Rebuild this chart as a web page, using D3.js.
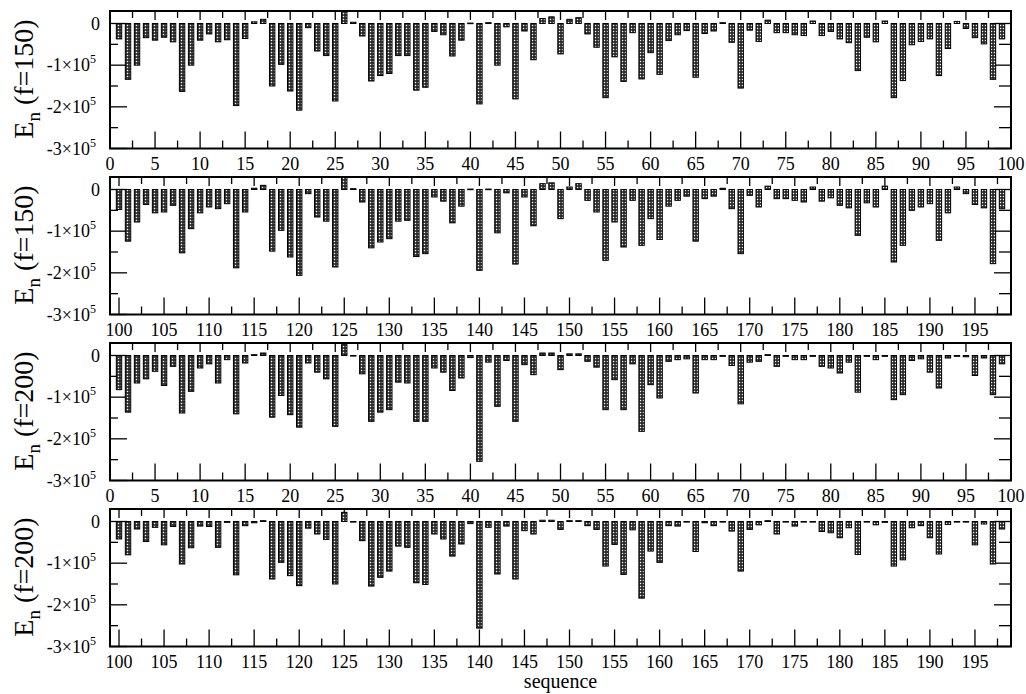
<!DOCTYPE html>
<html>
<head>
<meta charset="utf-8">
<script src="https://cdn.jsdelivr.net/npm/d3@7"></script>
<style>
body { margin: 0; background: #fff; }
svg text { font-family: "Liberation Serif", "Times New Roman", serif; fill: #000; }
</style>
</head>
<body>
<svg id="chart" width="1026" height="694"></svg>
<script>
// E_n in units of 1e5
// f=150, sequences 1..99
const en150a = [-0.37,-1.34,-1.0,-0.34,-0.40,-0.33,-0.44,-1.63,-1.0,-0.40,
  -0.25,-0.44,-0.39,-1.97,-0.36,0.04,0.10,-1.5,-0.98,-1.62,
  -2.08,-0.10,-0.66,-0.77,-1.86,0.30,0.03,-0.30,-1.38,-1.25,
  -1.2,-0.77,-0.77,-1.6,-1.53,-0.19,-0.27,-0.78,-0.40,0.01,
  -1.93,0.02,-1.0,-0.08,-1.81,-0.18,-0.87,0.12,0.16,-0.73,
  0.10,0.14,-0.25,-0.57,-1.78,-0.80,-1.39,-0.22,-1.33,-0.70,
  -1.22,-0.41,-0.27,-0.17,-1.29,-0.24,-0.18,0.02,-0.45,-1.55,
  -0.16,-0.43,0.08,-0.22,-0.22,-0.27,-0.29,0.06,-0.29,-0.19,
  -0.37,-0.46,-1.13,-0.33,-0.44,0.06,-1.78,-1.37,-0.51,-0.43,
  -0.37,-1.25,-0.60,0.05,-0.12,-0.34,-0.49,-1.34,-0.37];
// f=150, sequences 100..198
const en150b = [-0.48,-1.24,-0.78,-0.36,-0.56,-0.54,-0.38,-1.52,-0.94,-0.56,
  -0.42,-0.46,-0.34,-1.88,-0.54,0.03,0.10,-1.48,-0.98,-1.62,
  -2.06,-0.10,-0.66,-0.76,-1.86,0.30,0.02,-0.30,-1.40,-1.26,
  -1.18,-0.76,-0.74,-1.61,-1.54,-0.18,-0.28,-0.80,-0.40,0.01,
  -1.94,0.01,-1.04,-0.08,-1.79,-0.18,-0.87,0.14,0.16,-0.70,
  0.06,0.14,-0.26,-0.54,-1.70,-0.78,-1.38,-0.26,-1.34,-0.70,
  -1.20,-0.40,-0.26,-0.16,-1.24,-0.22,-0.16,0.03,-0.46,-1.54,
  -0.14,-0.42,0.08,-0.22,-0.22,-0.26,-0.30,0.06,-0.28,-0.20,
  -0.38,-0.44,-1.10,-0.32,-0.42,0.08,-1.74,-1.34,-0.50,-0.42,
  -0.34,-1.22,-0.56,0.06,-0.10,-0.36,-0.44,-1.78,-0.46];
// f=200, sequences 1..99
const en200a = [-0.82,-1.36,-0.66,-0.56,-0.38,-0.72,-0.26,-1.38,-0.86,-0.30,
  -0.20,-0.66,-0.10,-1.40,-0.18,0.02,0.06,-1.48,-0.96,-1.42,
  -1.72,-0.18,-0.40,-0.56,-1.70,0.26,-0.01,-0.44,-1.58,-1.36,
  -1.30,-0.64,-0.66,-1.58,-1.58,-0.30,-0.40,-0.84,-0.54,-0.05,
  -2.54,-0.16,-1.22,-0.12,-1.58,-0.22,-0.46,0.06,0.06,-0.34,
  0.04,0.04,-0.14,-0.28,-1.30,-0.58,-1.30,-0.20,-1.82,-0.70,
  -1.02,-0.14,-0.10,-0.08,-0.90,-0.10,-0.10,-0.02,-0.24,-1.16,
  -0.16,-0.14,0.02,-0.26,-0.02,-0.10,-0.10,-0.02,-0.26,-0.30,
  -0.42,-0.16,-0.88,-0.02,-0.10,-0.02,-1.06,-0.94,-0.12,-0.08,
  -0.40,-0.78,-0.06,-0.02,-0.03,-0.48,-0.06,-0.94,-0.20];
// f=200, sequences 100..198
const en200b = [-0.42,-0.80,-0.18,-0.48,-0.14,-0.56,-0.12,-1.02,-0.63,-0.11,
  -0.12,-0.62,-0.02,-1.28,-0.10,-0.03,0.02,-1.38,-0.98,-1.30,
  -1.54,-0.16,-0.30,-0.43,-1.50,0.22,-0.01,-0.46,-1.55,-1.34,
  -1.19,-0.59,-0.62,-1.47,-1.51,-0.30,-0.42,-0.83,-0.54,-0.05,
  -2.56,-0.14,-1.26,-0.11,-1.38,-0.22,-0.30,0.03,0.03,-0.19,
  0.02,0.02,-0.10,-0.19,-1.07,-0.55,-1.27,-0.20,-1.84,-0.71,
  -0.98,-0.10,-0.11,-0.01,-0.72,-0.03,-0.10,-0.01,-0.23,-1.19,
  -0.19,-0.08,0.02,-0.30,-0.01,-0.11,-0.01,-0.01,-0.24,-0.27,
  -0.39,-0.15,-0.79,-0.01,-0.08,-0.02,-1.07,-0.92,-0.15,-0.10,
  -0.39,-0.78,-0.07,-0.01,-0.01,-0.56,-0.06,-1.02,-0.18];

const panelData = [en150a, en150b, en200a, en200b];
const panelStart = [1, 100, 1, 100];
const panelForce = ["150", "150", "200", "200"];
const yMajor = [0, -1, -2, -3];
const yMinor = [-0.5, -1.5, -2.5];

const svg = d3.select("#chart");
const left = 110, right = 1011;
const panelH = 137.5;
const panelTops = [11, 177, 343, 509];
const barW = 5.4;

let defs = svg.append("defs");
let pat = defs.append("pattern").attr("id", "dots")
    .attr("patternUnits", "userSpaceOnUse").attr("width", 3).attr("height", 3);
pat.append("rect").attr("width", 3).attr("height", 3).attr("fill", "#222");
pat.append("rect").attr("x", 0.8).attr("y", 0.8).attr("width", 1.4).attr("height", 1.4).attr("fill", "#fff");

function drawPanel(i) {
    let top = panelTops[i], bottom = top + panelH;
    let start = panelStart[i];
    let data = panelData[i].map((v, k) => ({n: start + k, v: v}));

    let x = d3.scaleLinear().domain([start - 1, start + 99]).range([left, right]);
    let y = d3.scaleLinear().domain([-3, 0.3]).range([bottom, top]);

    let g = svg.append("g");

    // x ticks every 2.5, labels every 5
    let xt = d3.range(Math.ceil((start - 1) / 2.5) * 2.5, start + 99.01, 2.5);
    xt.forEach(t => {
        let major = t % 5 === 0;
        let px = x(t);
        g.append("line").attr("x1", px).attr("x2", px)
            .attr("y1", bottom).attr("y2", bottom - (major ? 17 : 8))
            .attr("stroke", "#000").attr("stroke-width", 1.3);
        g.append("line").attr("x1", px).attr("x2", px)
            .attr("y1", top).attr("y2", top + (major ? 9 : 7))
            .attr("stroke", "#000").attr("stroke-width", 1.3);
        if (major) {
            g.append("text").attr("x", px).attr("y", bottom + 21)
                .attr("text-anchor", "middle").attr("font-size", 18).text(t);
        }
    });

    yMajor.concat(yMinor).forEach(t => {
        let major = yMajor.includes(t);
        let py = y(t);
        g.append("line").attr("x1", left).attr("x2", left + (major ? 17 : 8))
            .attr("y1", py).attr("y2", py).attr("stroke", "#000").attr("stroke-width", 1.3);
        g.append("line").attr("x1", right).attr("x2", right - (major ? 17 : 12))
            .attr("y1", py).attr("y2", py).attr("stroke", "#000").attr("stroke-width", 1.3);
    });

    yMajor.forEach(t => {
        let py = y(t);
        if (t === 0) {
            g.append("text").attr("x", 100).attr("y", py + 6)
                .attr("text-anchor", "end").attr("font-size", 18).text("0");
        } else {
            let tx = g.append("text").attr("x", 96).attr("y", py + 6)
                .attr("text-anchor", "end").attr("font-size", 18);
            tx.append("tspan").text("-" + Math.abs(t) + "\u00d710");
            tx.append("tspan").attr("dy", -8).attr("font-size", 12).text("5");
        }
    });

    // bars
    g.selectAll("rect.bar").data(data).enter().append("rect")
        .attr("class", "bar")
        .attr("x", d => x(d.n) - barW / 2)
        .attr("width", barW)
        .attr("y", d => y(Math.max(d.v, 0)))
        .attr("height", d => Math.max(Math.abs(y(d.v) - y(0)), 0.6))
        .attr("fill", "url(#dots)")
        .attr("stroke", "#000").attr("stroke-width", 1);

    g.append("rect").attr("x", left).attr("y", top)
        .attr("width", right - left).attr("height", panelH)
        .attr("fill", "none").attr("stroke", "#000").attr("stroke-width", 2);

    // axis title
    let lab = g.append("text")
        .attr("transform", "translate(33," + (top + 68) + ") rotate(-90)")
        .attr("text-anchor", "middle").attr("font-size", 28);
    lab.append("tspan").text("E");
    lab.append("tspan").attr("dy", 7).attr("font-size", 19).text("n");
    lab.append("tspan").attr("dy", -7).text(" (f=" + panelForce[i] + ")");
}

for (let i = 0; i < 4; i++) drawPanel(i);

svg.append("text").attr("x", (left + right) / 2).attr("y", 688)
    .attr("text-anchor", "middle").attr("font-size", 20).text("sequence");
</script>
</body>
</html>
